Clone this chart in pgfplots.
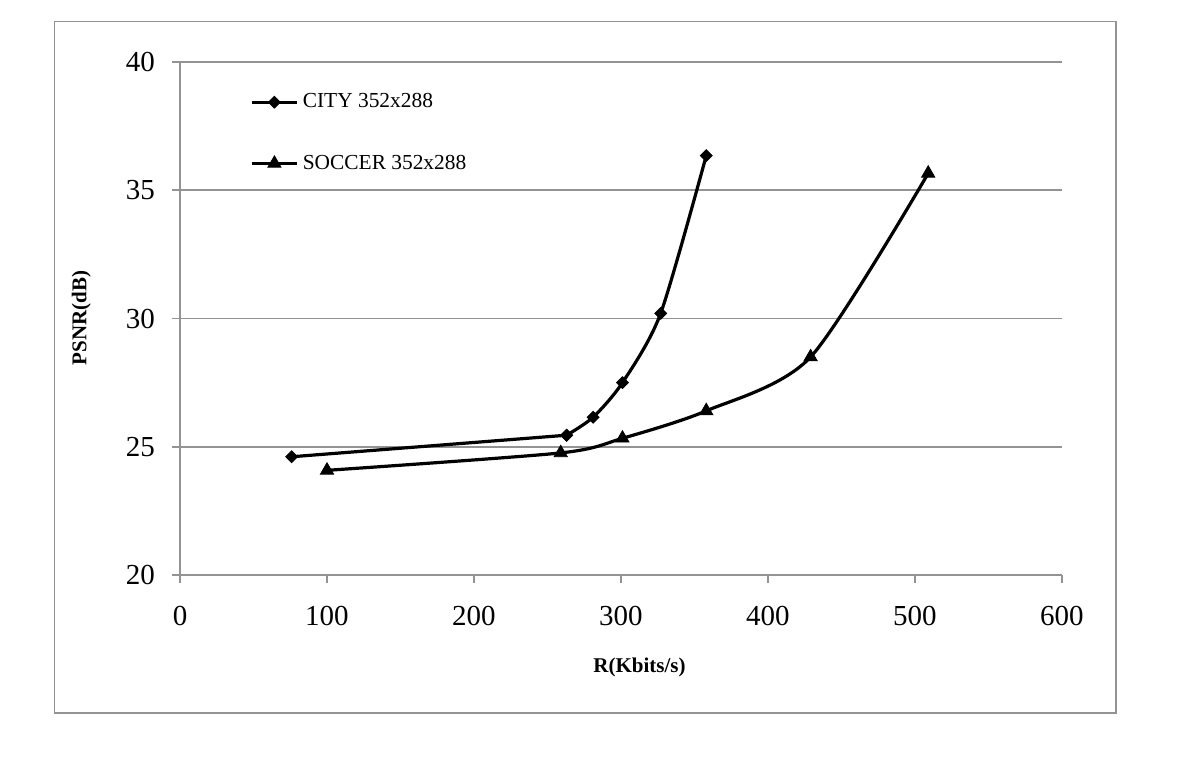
\documentclass[border=0pt]{standalone}
\usepackage{fontspec}
\setmainfont{Liberation Serif}
\usepackage{pgfplots}
\pgfplotsset{compat=1.18}
\begin{document}
\begin{tikzpicture}
\path[use as bounding box] (0,0) rectangle (600pt,-390pt);
\draw[gray!85, line width=0.8pt] (27.2pt,-10.8pt) rectangle (558pt,-356.5pt);
\begin{axis}[
  at={(90pt,-287.5pt)}, anchor=south west,
  scale only axis, width=441pt, height=256.5pt,
  xmin=0, xmax=600, ymin=20, ymax=40,
  xtick={0,100,...,600}, ytick={20,25,...,40},
  axis lines*=left,
  axis line style={gray!85, line width=0.8pt},
  major tick style={gray!85, line width=0.8pt},
  tick align=outside, major tick length=4pt,
  ymajorgrids, grid style={gray!85, line width=0.8pt},
  /pgf/number format/assume math mode=true,
  ticklabel style={font=\fontsize{14.5}{16}\selectfont},
  xticklabel style={yshift=-8pt},
  yticklabel style={xshift=-5pt},
  xlabel={\textbf{R(Kbits/s)}},
  ylabel={\textbf{PSNR(dB)}},
  label style={font=\fontsize{10.5}{12}\selectfont},
  xlabel style={at={(axis description cs:0.521,-0.181)}, anchor=center},
  ylabel style={at={(axis description cs:-0.112,0.501)}, anchor=center, rotate=0},
  legend style={at={(axis description cs:0.079,0.947)}, anchor=north west, draw=none, fill=none,
    font=\fontsize{10.7}{13}\selectfont, row sep=18pt, inner sep=0pt,
    cells={anchor=west}, /tikz/every even column/.append style={column sep=-1pt}},
  legend cell align=left,
  legend image code/.code={
    \draw[mark repeat=2,mark phase=2] plot coordinates {(0cm,0cm)(0.4cm,0cm)(0.8cm,0cm)};
  },
  every axis plot/.append style={line width=1.6pt, black},
]
\addplot[mark=square*, mark size=2.1pt, mark options={solid, rotate=45, line width=0.4pt}] coordinates {
  (76,24.61) (263,25.45)
};
\addlegendentry{CITY 352x288}
\addplot[smooth, tension=0.45, mark=triangle*, mark size=3.8pt, mark options={solid, line width=0.4pt}] coordinates {
  (100,24.08) (259,24.76) (301,25.33) (358,26.4) (429,28.5) (509,35.66)
};
\addlegendentry{SOCCER 352x288}
\addplot[forget plot, smooth, tension=0.45, mark=square*, mark size=2.1pt, mark options={solid, rotate=45, line width=0.4pt}] coordinates {
  (263,25.45) (281,26.15) (301,27.5) (327,30.2) (358,36.35)
};
\end{axis}
\end{tikzpicture}
\end{document}
